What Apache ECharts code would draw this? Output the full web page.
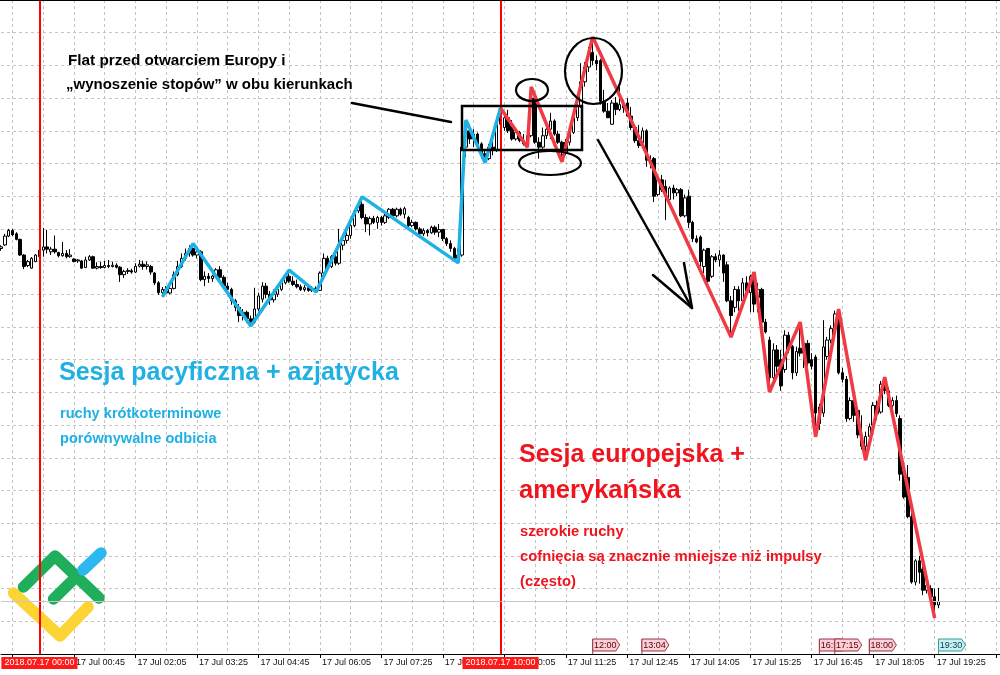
<!DOCTYPE html>
<html><head><meta charset="utf-8">
<script src="https://cdn.jsdelivr.net/npm/echarts@6/dist/echarts.min.js"></script>
<style>html,body{margin:0;padding:0;background:#fff}#c{width:1000px;height:675px}</style>
</head><body><div id="c"></div>
<script>
// ---- DATA ----
// 5-minute bars, first bar 16 Jul 23:10, 261 slots
const barCount = 261;
const firstBarMinutes = -50; // minutes from 17 Jul 00:00
const tickLabels = ["17 Jul 00:45","17 Jul 02:05","17 Jul 03:25","17 Jul 04:45","17 Jul 06:05","17 Jul 07:25","17 Jul 08:45","17 Jul 10:05","17 Jul 11:25","17 Jul 12:45","17 Jul 14:05","17 Jul 15:25","17 Jul 16:45","17 Jul 18:05","17 Jul 19:25"];
// [open, close, low, high]
const candles = [
[124.0,124.5,123.3,125.0],[125.1,127.8,124.8,128.5],[127.8,129.5,127.5,130.0],[129.5,128.2,127.8,130.0],[128.5,126.8,126.5,129.0],
[126.8,122.0,121.8,127.0],[122.0,118.5,117.7,122.3],[118.8,120.0,118.3,120.5],[118.0,121.0,117.8,121.4],[120.0,122.0,119.8,122.3],
[121.5,123.5,120.0,130.3],[123.5,124.5,121.5,130.3],[124.5,123.8,122.5,129.7],[123.0,123.8,122.0,124.5],[123.8,123.0,122.5,128.0],
[122.8,121.8,121.3,123.0],[121.8,122.5,121.5,126.0],[122.5,121.5,121.0,123.5],[121.5,122.0,121.2,123.8],[120.8,120.0,119.8,121.0],
[120.2,120.5,119.6,120.8],[120.2,118.0,117.8,120.5],[118.2,120.5,118.0,121.5],[120.5,121.5,120.2,122.0],[121.5,118.0,117.8,121.8],
[118.0,118.5,117.6,119.8],[118.5,118.2,117.8,120.0],[118.2,118.8,117.9,120.2],[118.8,118.5,118.0,120.5],[118.5,118.9,118.2,120.0],
[118.9,118.3,117.9,119.5],[118.3,116.0,113.8,118.6],[116.0,117.0,115.0,117.5],[117.0,117.3,116.2,118.0],[117.2,116.8,116.3,117.8],
[116.8,118.6,116.5,119.5],[118.6,119.2,118.2,120.5],[119.2,118.5,117.5,120.3],[118.5,119.0,117.6,120.0],[118.5,116.8,116.0,119.0],
[116.5,113.5,112.8,116.8],[113.5,110.5,109.8,114.0],[110.5,111.5,109.2,112.2],[111.5,110.4,110.0,112.5],[110.4,111.8,110.0,112.2],
[111.8,116.0,111.5,117.0],[116.0,118.5,115.5,120.2],[118.5,121.0,118.0,122.5],[121.0,122.5,120.3,124.0],[122.5,124.0,121.5,125.0],
[124.0,122.0,121.5,125.5],[122.0,123.0,121.0,124.5],[123.0,114.5,114.0,123.5],[114.5,115.5,112.5,117.0],[115.5,114.8,113.5,116.5],
[114.8,115.6,113.8,116.0],[115.6,117.5,115.2,118.0],[117.5,115.2,114.8,118.6],[115.2,112.5,111.8,115.8],[112.5,111.5,110.5,113.5],
[111.5,108.0,106.8,112.0],[108.0,106.0,104.8,108.6],[106.0,103.5,101.5,107.0],[103.5,104.5,102.0,105.5],[104.5,102.5,101.2,105.0],
[102.5,101.5,100.3,103.5],[101.5,105.5,101.0,112.0],[105.5,109.5,104.8,110.5],[108.5,112.5,107.5,113.7],[112.5,110.0,108.8,113.5],
[110.0,108.3,106.8,111.0],[108.3,110.0,107.5,111.5],[110.0,111.5,109.2,112.5],[111.5,113.5,111.0,114.4],[113.5,115.5,113.0,116.5],
[115.5,114.0,113.5,117.4],[114.0,113.0,112.5,115.5],[113.0,112.3,111.8,114.5],[112.3,111.4,111.0,113.0],[111.4,112.0,110.8,112.8],
[112.0,111.2,110.8,112.5],[111.2,111.8,110.7,112.5],[111.8,111.2,110.7,112.4],[111.2,116.5,111.0,117.0],[116.5,121.0,116.0,122.5],
[121.0,118.5,118.0,121.8],[118.5,121.5,118.0,122.0],[121.5,119.5,118.8,122.5],[119.5,125.0,119.0,130.0],[125.0,126.5,123.5,127.5],
[126.5,128.0,125.5,129.5],[128.0,131.0,127.0,131.5],[131.0,135.5,130.5,136.0],[135.5,137.5,134.8,138.5],[137.5,133.5,133.0,139.8],
[133.5,131.5,129.0,134.5],[131.5,133.2,128.0,133.8],[133.2,132.0,131.5,134.0],[132.0,133.5,130.0,134.0],[133.5,132.0,131.0,134.0],
[132.0,134.0,131.5,135.0],[133.5,136.0,133.0,136.4],[136.0,134.0,133.5,136.4],[134.0,136.0,133.5,136.5],[136.0,134.5,134.0,136.5],
[134.5,136.2,133.2,136.8],[133.5,131.0,130.0,134.0],[131.0,132.0,130.5,132.8],[132.0,130.0,129.5,132.3],[130.0,128.5,127.5,130.5],
[128.5,129.5,127.8,130.2],[129.5,128.8,127.7,130.0],[128.8,130.5,128.5,131.0],[130.5,129.0,128.2,131.0],[129.0,129.8,127.5,131.5],
[129.8,127.0,126.3,130.0],[127.0,125.5,124.8,127.5],[125.5,124.0,123.0,126.5],[124.0,121.0,120.5,124.5],[121.0,122.0,119.6,124.0],
[122.0,155.0,121.5,157.0],[155.0,160.0,152.0,163.3],[160.0,157.5,156.0,162.0],[157.5,159.0,155.0,160.5],[159.0,156.0,154.0,159.5],
[156.0,153.0,151.5,156.5],[153.0,151.5,150.2,154.0],[151.5,155.0,151.0,156.0],[155.0,154.0,152.5,157.5],[154.0,162.0,153.5,163.5],
[162.0,165.0,161.5,167.0],[161.0,164.0,160.0,165.0],[164.0,160.0,159.3,166.4],[161.5,157.5,157.0,163.3],[157.5,159.5,157.0,160.5],
[159.5,157.0,156.5,160.0],[157.0,156.0,155.5,159.0],[156.0,158.5,155.0,159.5],[158.5,170.0,158.0,173.4],[170.0,156.5,156.0,171.5],
[156.5,155.0,151.5,158.0],[155.0,158.5,154.5,161.0],[158.5,160.5,157.5,161.5],[160.5,163.0,157.5,165.5],[163.0,159.0,158.5,163.5],
[159.0,156.5,156.0,160.0],[156.5,153.5,150.5,157.0],[153.5,156.5,152.5,157.5],[156.5,159.5,155.5,161.0],[159.5,164.0,159.0,165.0],
[164.0,167.5,163.0,168.5],[167.5,175.0,167.0,180.7],[175.0,179.5,173.5,181.0],[179.5,184.0,178.0,185.6],[184.0,181.5,180.0,188.7],
[181.5,180.5,178.5,183.0],[181.5,169.0,168.0,182.0],[169.0,166.0,165.5,172.5],[166.0,164.0,163.9,168.5],[162.0,168.5,161.8,169.4],
[168.5,166.5,164.8,170.3],[166.5,168.0,166.0,173.4],[168.0,167.0,165.5,169.5],[168.5,164.5,164.2,170.0],[164.5,161.0,160.2,167.3],
[161.0,157.0,156.3,161.5],[157.0,155.5,154.7,161.8],[156.3,160.0,156.0,161.0],[160.0,151.0,149.0,160.5],[151.0,150.0,148.5,152.5],
[151.5,140.0,138.2,152.0],[140.5,145.0,140.0,146.0],[145.0,142.0,141.3,146.5],[143.0,140.0,132.7,145.0],[139.0,142.5,138.5,143.0],
[142.5,141.0,139.0,143.5],[141.0,142.0,140.0,142.5],[142.0,134.0,133.6,142.5],[134.0,139.5,133.5,140.5],[140.0,132.0,130.3,142.0],
[132.0,127.0,126.0,132.5],[127.0,126.0,125.6,128.0],[127.5,120.0,118.5,128.0],[118.5,123.5,116.5,124.0],[124.0,114.0,113.5,124.2],
[115.5,121.5,115.0,122.0],[121.5,120.5,119.8,122.5],[120.5,122.0,118.5,123.5],[122.0,116.5,113.8,122.3],[119.0,108.0,107.6,120.0],
[108.0,103.5,96.9,109.5],[106.0,111.5,104.5,112.5],[111.5,108.0,105.0,112.5],[108.0,113.5,107.5,115.0],[113.5,111.0,109.0,115.5],
[110.5,115.5,104.5,116.0],[115.5,107.0,104.5,116.8],[109.0,111.5,104.5,113.5],[111.5,101.5,100.5,112.0],[101.5,98.5,98.0,102.5],
[96.0,84.5,80.1,97.0],[84.5,93.0,83.0,95.0],[93.0,88.0,86.0,94.5],[90.0,82.0,80.5,93.0],[87.0,97.5,86.0,99.0],
[97.5,94.0,92.0,98.5],[94.0,86.0,84.0,94.5],[86.0,92.5,85.0,94.0],[93.5,92.0,91.0,101.5],[92.0,95.0,87.5,96.5],
[95.0,89.0,88.0,96.0],[90.0,88.0,87.0,92.0],[90.8,73.7,66.4,91.5],[75.5,70.5,68.5,76.5],[73.7,93.9,72.5,102.1],
[91.0,96.0,90.0,97.0],[96.0,99.5,95.0,100.5],[99.5,104.0,98.5,105.0],[104.3,86.0,85.5,105.5],[86.0,84.0,83.0,87.5],
[84.0,72.0,71.0,85.0],[72.0,77.5,71.5,78.5],[77.5,73.0,71.0,78.0],[74.5,67.0,66.0,75.0],[67.0,63.5,62.5,73.0],
[63.5,66.5,59.3,68.0],[66.5,69.5,64.5,70.5],[70.0,76.0,69.0,77.0],[76.0,73.5,71.5,77.5],[74.0,82.5,73.5,83.5],
[82.5,80.5,79.5,84.7],[80.5,76.0,75.5,81.5],[76.0,77.5,75.0,78.5],[77.5,73.5,72.5,79.0],[72.0,55.0,53.0,73.0],
[56.0,48.0,47.5,57.0],[54.0,42.0,41.5,57.8],[42.0,22.0,21.5,43.0],[22.0,28.5,21.0,29.0],[28.5,25.0,21.5,30.0],
[26.0,19.5,18.0,28.0],[19.5,21.0,18.5,22.5],[20.0,17.5,16.5,21.0],[17.5,15.0,11.0,20.0],[15.0,16.0,14.0,20.2]
];
// zigzag vertices: [bar index, price]
const zigzagAsia = [[42,109.2],[50,125.5],[65,100.3],[75,117.4],[82,110.7],[94,139.8],[119,119.6],[121,163.3],[126,150.2],[130,167.0]];
const zigzagEurope = [[130,167.0],[137,155.0],[138,173.4],[146,150.5],[154,188.7],[190,96.9],[196,116.8],[200,80.1],[208,101.5],[212,66.4],[218,105.5],[225,59.3],[230,84.7],[243,11.0]];
// session separators (bar index) and their labels
const sessionBars = [10, 130];
const sessionLabels = ["2018.07.17 00:00","2018.07.17 10:00"];
// event markers on the time axis
const eventTimes = ["12:00","13:04","16:55","17:15","18:00","19:30"];
const eventKinds = ["news","news","news","news","news","now"];
const bidPrice = candles[candles.length-1][1];

// ---- build categories ----
const pad = n => (n<10?'0':'')+n;
const categories = [];
for (let i=0;i<barCount;i++){
  let m = firstBarMinutes + 5*i;
  let day = 17;
  if (m<0){ m += 1440; day = 16; }
  categories.push(day+" Jul "+pad(Math.floor(m/60))+":"+pad(m%60));
}
const toIndex = t => { const [h,mm]=t.split(':').map(Number); return (h*60+mm-firstBarMinutes)/5; };

const chart = echarts.init(document.getElementById('c'));
const FONT = "'Liberation Sans', Arial, sans-serif";
const BLUE = '#1fb1e3', RED_TXT = '#f0141e', RED_Z = '#ef3b45';

function txt(x,y,text,size,color){
  return {type:'text', z:100, style:{x:x,y:y,text:text,fill:color,font:'bold '+size+'px '+FONT,
    align:'left',verticalAlign:'middle',textAlign:'left',textVerticalAlign:'middle'}};
}
function pl(points,color,w,z){
  return {type:'polyline', z:z||100, shape:{points:points}, style:{stroke:color,lineWidth:w,fill:null,lineCap:'round',lineJoin:'round'}};
}

const graphics = [
  {type:'line', z:100, shape:{x1:0,y1:0.5,x2:1000,y2:0.5}, style:{stroke:'#000',lineWidth:1}},
  // logo
  pl([[13.5,593],[60,636],[88,607]],'#fcd535',11.5,1),
  pl([[23.5,587],[55,556],[99,598]],'#1fae5b',11.5,1),
  pl([[53.5,599],[77,576]],'#1fae5b',11.5,1),
  pl([[83,570],[101,553]],'#2bb8f0',11.5,1),
  // annotations
  pl([[352,103],[451,122]],'#000',2.5),
  {type:'rect', z:100, shape:{x:462,y:106,width:120,height:44}, style:{stroke:'#000',lineWidth:2.5,fill:null}},
  {type:'ellipse', z:100, shape:{cx:532,cy:90,rx:16,ry:11}, style:{stroke:'#000',lineWidth:2.2,fill:null}},
  {type:'ellipse', z:100, shape:{cx:550,cy:163,rx:31,ry:12}, style:{stroke:'#000',lineWidth:2.2,fill:null}},
  {type:'ellipse', z:100, shape:{cx:593.5,cy:71,rx:28.5,ry:33}, style:{stroke:'#000',lineWidth:2.2,fill:null}},
  pl([[598,140],[692,308]],'#000',2.5),
  pl([[653,275],[692,308],[684,263]],'#000',2.5),
  txt(68,61,'Flat przed otwarciem Europy i',15.3,'#000'),
  txt(66,85,'\u201ewynoszenie stop\u00f3w\u201d w obu kierunkach',15,'#000'),
  txt(59,373,'Sesja pacyficzna + azjatycka',25,BLUE),
  txt(60,414,'ruchy kr\u00f3tkoterminowe',14.6,BLUE),
  txt(60,439,'por\u00f3wnywalne odbicia',14.6,BLUE),
  txt(519,455,'Sesja europejska +',25,RED_TXT),
  txt(519,491,'ameryka\u0144ska',25.5,RED_TXT),
  txt(520,532,'szerokie ruchy',14.8,RED_TXT),
  txt(520,557,'cofni\u0119cia s\u0105 znacznie mniejsze ni\u017c impulsy',14.8,RED_TXT),
  txt(520,582,'(cz\u0119sto)',14.8,RED_TXT)
];

const markData = sessionBars.map((b,k)=>({
  xAxis: categories[b],
  lineStyle:{color:'#ff0000',width:2,type:'solid'},
  label:{show:true,position:'start',distance:3,formatter:sessionLabels[k],color:'#fff',backgroundColor:'#ff1a1a',
    fontSize:9,fontFamily:FONT,padding:[1,3,1,3],lineHeight:10}
}));
markData.push({yAxis:bidPrice, lineStyle:{color:'#c8c8c8',width:1,type:'solid'}, label:{show:false}});

chart.setOption({
  animation:false,
  backgroundColor:'#fff',
  grid:{left:1,top:0,width:1000,height:654,containLabel:false},
  xAxis:{type:'category',data:categories,boundaryGap:false,
    axisLine:{lineStyle:{color:'#000',width:1}},
    axisTick:{show:true,interval:(i)=>i%16===3,length:4,lineStyle:{color:'#000'}},
    axisLabel:{interval:(i,v)=>tickLabels.indexOf(v)>=0,align:'left',margin:4,fontSize:9,color:'#111',fontFamily:FONT,padding:[0,0,0,2]},
    splitLine:{show:true,interval:(i)=>i%8===3,lineStyle:{color:'#c4c4c4',type:[3,3],width:1}}
  },
  yAxis:{type:'value',min:0,max:200,interval:10,position:'right',scale:false,
    axisLine:{show:false},axisTick:{show:false},axisLabel:{show:false},
    splitLine:{lineStyle:{color:'#c4c4c4',type:[3,3],width:1}}},
  series:[
    {type:'candlestick',data:candles,barWidth:3,z:3,
      itemStyle:{color:'#ffffff',color0:'#000000',borderColor:'#000000',borderColor0:'#000000',borderColorDoji:'#000000',borderWidth:1},
      markLine:{silent:true,symbol:['none','none'],animation:false,data:markData}},
    {type:'line',data:zigzagAsia,symbol:'none',z:5,lineStyle:{color:BLUE,width:3.5},silent:true},
    {type:'line',data:zigzagEurope,symbol:'none',z:5,lineStyle:{color:RED_Z,width:3.5},silent:true}
  ],
  graphic:{elements:graphics}
});

// event tags on the time axis
const x0 = chart.convertToPixel({xAxisIndex:0},0);
const x1 = chart.convertToPixel({xAxisIndex:0},1);
const step = x1-x0;
const tagEls = [];
eventTimes.forEach((t,k)=>{
  const x = x0 + step*toIndex(t);
  const now = eventKinds[k]==='now';
  const fill = now ? '#c6f1f1' : '#fbd0d8';
  const stroke = now ? '#2f9c9c' : '#9a3344';
  tagEls.push({type:'polyline', z:110+k, shape:{points:[[x,654],[x,639]]}, style:{stroke:stroke,lineWidth:1}});
  tagEls.push({type:'polygon', z:110+k, shape:{points:[[x,639],[x+23,639],[x+27,645],[x+23,651],[x,651]]},
    style:{fill:fill,stroke:stroke,lineWidth:1}});
  tagEls.push({type:'text', z:110+k, style:{x:x+12.5,y:645.5,text:t,fill:now?'#135':'#500',font:'9px '+FONT,
    align:'center',verticalAlign:'middle',textAlign:'center',textVerticalAlign:'middle'}});
});
chart.setOption({graphic:{elements:graphics.concat(tagEls)}});
</script>
</body></html>
